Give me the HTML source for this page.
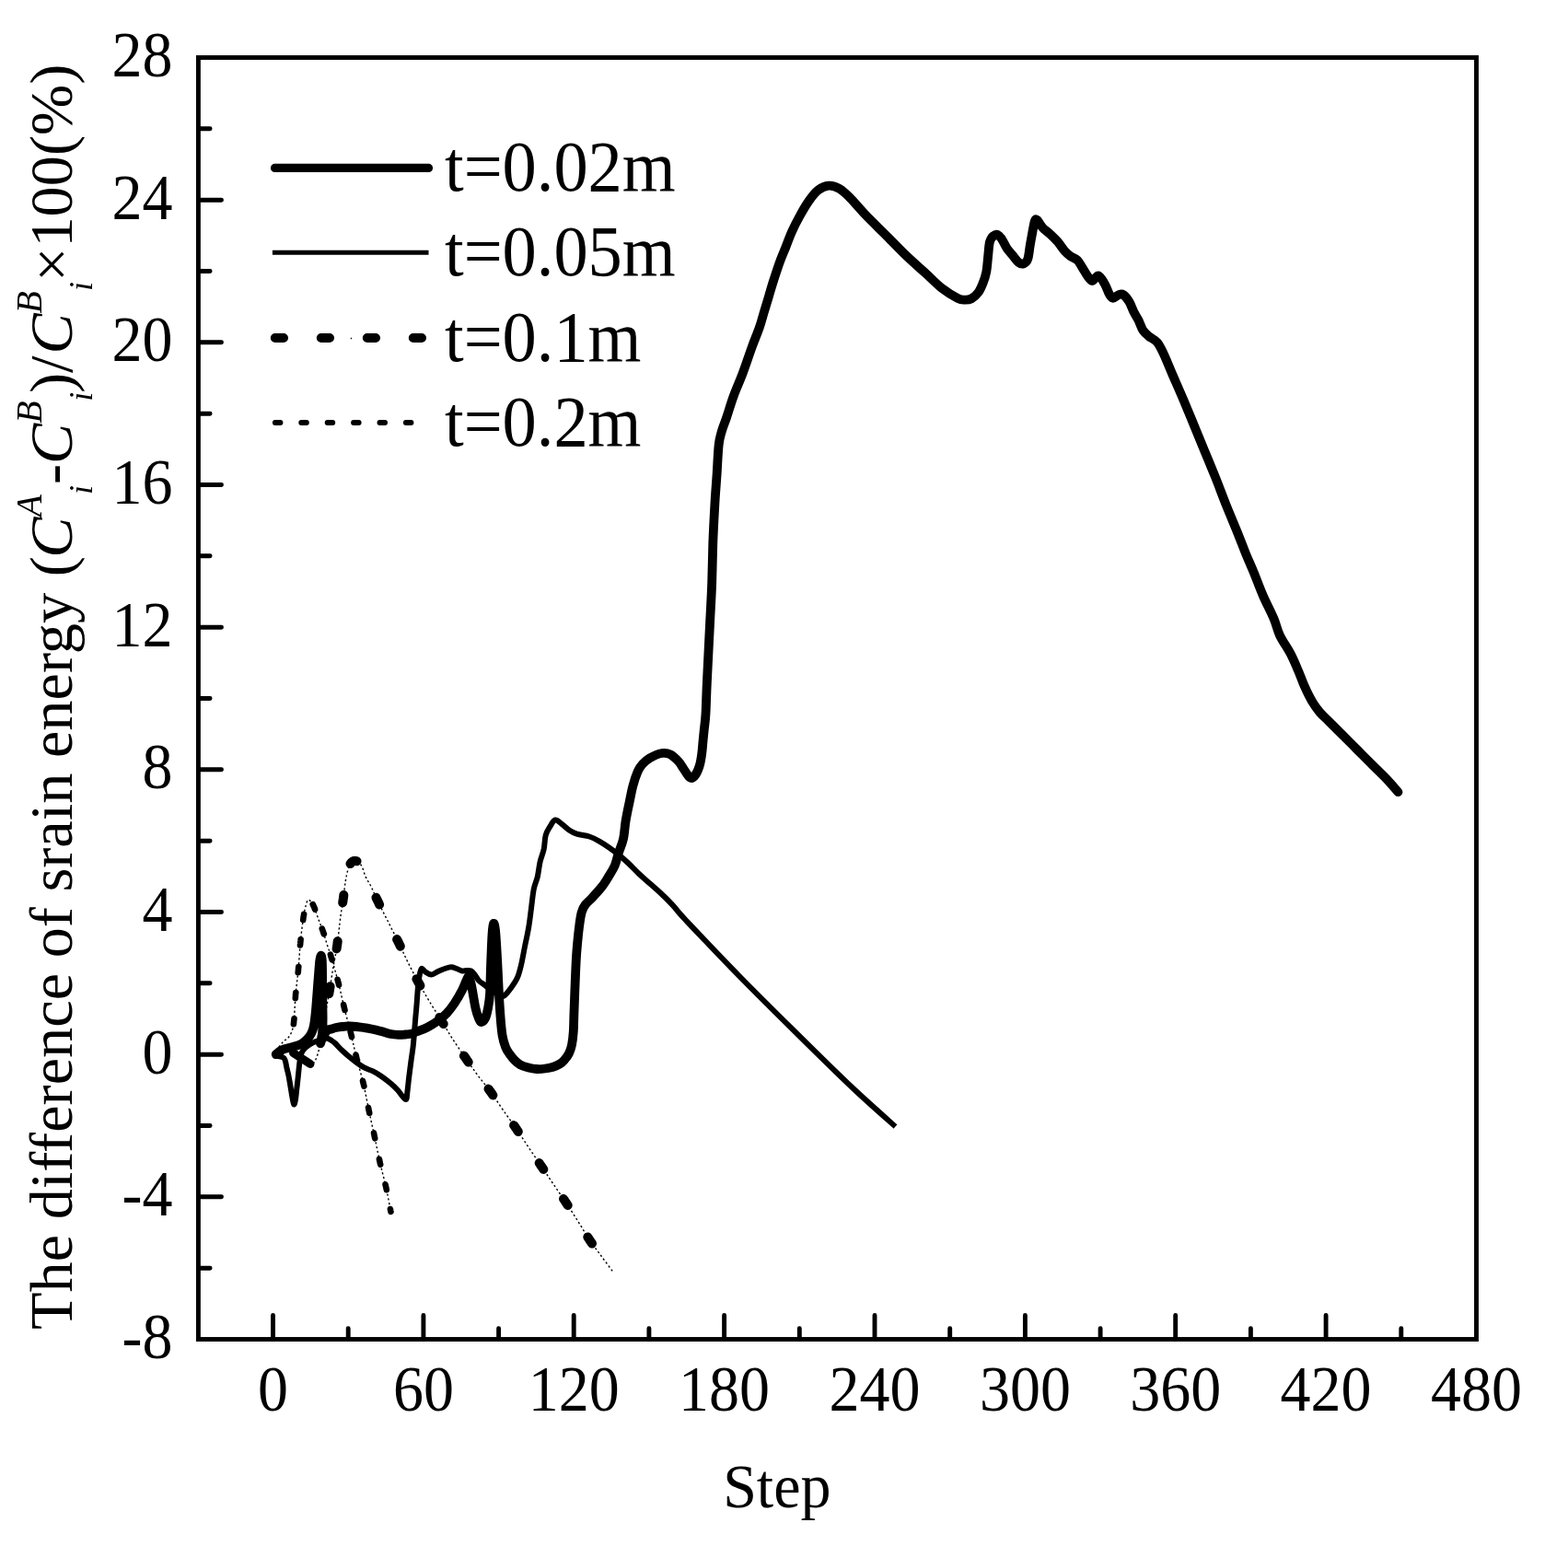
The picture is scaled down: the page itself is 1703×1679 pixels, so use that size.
<!DOCTYPE html>
<html><head><meta charset="utf-8"><title>Strain energy difference vs step</title>
<style>html,body{margin:0;padding:0;background:#fff;overflow:hidden;}svg{display:block;}text{font-family:"Liberation Serif","Times New Roman",serif;fill:#000;}</style></head><body>
<svg width="1703" height="1679" viewBox="0 0 1703 1679">
<rect width="1703" height="1679" fill="#fff"/>
<g fill="none" stroke="#000" stroke-linejoin="round">
<path d="M297 1145 C298.3 1144.5 302.5 1142.7 305 1142 C307.5 1141.3 309.8 1140.8 312 1141 C314.2 1141.2 315.8 1142 318 1143 C320.2 1144 322.8 1145.7 325 1147 C327.2 1148.3 329.1 1149.6 331 1151 C332.9 1152.4 334.8 1155 336.5 1155.5 C338.2 1156 339.6 1155.8 341 1154 C342.4 1152.2 343.7 1149.2 345 1145 C346.3 1140.8 347.8 1134.8 349 1129 C350.2 1123.2 351 1116.2 352 1110 C353 1103.8 354 1097.8 355 1092 C356 1086.2 356.8 1082 358 1075 C359.2 1068 360.6 1058.1 362 1050 C363.4 1041.9 364.9 1035.3 366.2 1026.3 C367.5 1017.3 368.7 1004.4 369.8 996 C370.9 987.6 371.9 982.7 372.8 976.2 C373.7 969.7 374.4 962.2 375.2 957.2 C376 952.2 376.7 949 377.5 946 C378.3 943 379.1 940.8 380 939 C380.9 937.2 381.9 936.2 383 935.5 C384.1 934.8 385.3 934.8 386.5 935 C387.7 935.2 388.8 935.8 390 937 C391.2 938.2 392.3 939.4 393.5 942 C394.7 944.6 395.6 948.9 397.2 952.4 C398.8 955.9 401 958.7 403.2 963.1 C405.4 967.5 407.3 972.5 410.3 978.6 C413.3 984.8 417.2 992.5 421 1000 C424.8 1007.5 429.3 1016.4 433 1023.9 C436.7 1031.4 439.4 1037.8 443 1045 C446.6 1052.2 450.6 1059.8 454.4 1066.8 C458.2 1073.8 461.8 1080 466 1087 C470.2 1094 475.2 1101.5 479.5 1108.5 C483.8 1115.5 487.5 1122.1 492 1129 C496.5 1135.9 501.8 1143.5 506.3 1150 C510.8 1156.5 514.5 1162 519 1168 C523.5 1174 528.5 1179.8 533 1186 C537.5 1192.2 541.4 1198.4 546 1205 C550.6 1211.6 555.8 1218.7 560.5 1225.5 C565.2 1232.3 569.4 1239.2 574 1246 C578.6 1252.8 583.5 1259.8 588 1266.5 C592.5 1273.2 596.6 1279.5 601 1286 C605.4 1292.5 610 1298.8 614.4 1305.5 C618.8 1312.2 623.1 1319.1 627.5 1326 C631.9 1332.9 636.4 1340.7 640.6 1347 C644.9 1353.3 648.8 1358.3 653 1364 C657.2 1369.7 663.5 1378.2 665.6 1381" stroke-width="1.4" stroke-dasharray="2.2 2.6"/>
<path d="M348.1 1133.1 348.5 1131.5 348.8 1129.9 349.1 1128.4 349.4 1126.8 349.7 1125.2 349.7 1124.9M357.3 1079.3 357.5 1077.7 357.8 1076.2 358.1 1074.6 358.3 1073 358.6 1071.5 358.6 1071.2M365.6 1030.4 365.8 1028.9 366.1 1027.2 366.3 1025.7 366.5 1024.2 366.7 1022.6 366.7 1022.2M372.2 980.4 372.4 978.9 372.6 977.3 372.9 975.7 373.1 974.1 373.3 972.5 373.3 972M380.5 938.1 381.5 936.8 382.6 935.7 384.1 935 385.7 934.9 387.2 935.2 387.5 935.3M408.5 974.8 409.2 976.3 409.9 977.7 410.6 979.1 411.3 980.6 411.9 982 412.1 982.4M431.1 1020.1 431.9 1021.6 432.6 1023.1 433.3 1024.5 434 1026 434.7 1027.4 434.8 1027.7M452.4 1063.2 453.2 1064.6 454 1066.1 454.7 1067.4 455.5 1068.7 456.2 1070.1 456.4 1070.5M477.3 1105 478.2 1106.4 479.1 1107.8 479.9 1109.2 480.7 1110.5 481.5 1111.8 481.7 1112.1M503.9 1146.6 504.9 1147.9 505.8 1149.2 506.7 1150.6 507.6 1151.9 508.5 1153.2 508.7 1153.5M530.5 1182.6 531.4 1183.8 532.3 1185.1 533.2 1186.3 534.2 1187.6 535.1 1189 535.4 1189.4M558.1 1222.1 559 1223.3 559.8 1224.5 560.8 1225.9 561.6 1227.2 562.5 1228.4 562.8 1229M585.7 1263.1 586.6 1264.5 587.5 1265.8 588.4 1267.1 589.2 1268.3 590.1 1269.6 590.3 1269.9M612 1302 612.9 1303.2 613.7 1304.5 614.6 1305.8 615.5 1307.2 616.4 1308.6 616.7 1309M638.3 1343.5 639.2 1344.9 640.1 1346.2 641 1347.6 641.9 1348.9 642.8 1350.2 643 1350.5" stroke-width="10" stroke-linecap="round"/>
<path d="M318.5 1143.5L337 1155.5" stroke-width="9" stroke-linecap="round"/>
<path d="M297 1145 C298 1143.7 301.2 1139.3 303 1137 C304.8 1134.7 306.3 1132.7 308 1131 C309.7 1129.3 311.5 1128.8 313 1127 C314.5 1125.2 316 1123 317 1120 C318 1117 318.5 1115.8 319.2 1109.3 C319.9 1102.8 320.2 1090.4 321 1081 C321.8 1071.6 323.1 1062.6 324 1053 C324.9 1043.4 325.4 1032.8 326.3 1023.3 C327.2 1013.8 328.6 1002.6 329.6 995.9 C330.6 989.2 331.5 986.1 332.3 983 C333.1 979.9 333.6 978.2 334.5 977.5 C335.4 976.8 336.4 977.8 337.5 979 C338.6 980.2 339.7 981.8 341 984.8 C342.3 987.8 343.8 992.6 345.4 997 C347 1001.4 349.2 1006.7 350.8 1011.4 C352.4 1016.1 353.5 1020.3 355 1025 C356.5 1029.7 357.6 1032.4 359.7 1039.4 C361.8 1046.4 365 1057.7 367.4 1066.8 C369.8 1075.9 371.5 1084.7 373.8 1094.1 C376.1 1103.5 379.1 1114.1 381.3 1123.2 C383.5 1132.3 385 1139.6 387.2 1148.5 C389.4 1157.4 392.5 1167.2 394.7 1176.8 C396.9 1186.3 398.6 1196.4 400.6 1205.8 C402.6 1215.2 404.6 1224.1 406.6 1233.4 C408.6 1242.7 410.4 1252.4 412.5 1261.7 C414.6 1271 417.2 1280.2 419.2 1289.2 C421.2 1298.2 423.6 1311.5 424.5 1316" stroke-width="1.4" stroke-dasharray="2.2 2.6"/>
<path d="M318.9 1112.2 319.1 1110.4 319.2 1108.8 319.4 1107.3 319.5 1106.2M320.8 1084.1 320.9 1082.5 321 1081 321.1 1079.5 321.3 1078M323.7 1056.1 323.9 1054.5 324 1053 324.1 1051.4 324.3 1050.1M326 1026.4 326.2 1024.8 326.3 1023.1 326.5 1021.6 326.6 1020.3M329.2 999 329.4 997.4 329.6 995.9 329.9 994.2 330.1 992.9M339.7 982.1 340.4 983.5 341.1 984.9 341.6 986.3 342.1 987.6M349.8 1008.6 350.3 1010 350.9 1011.6 351.3 1013 351.8 1014.3M358.9 1036.6 359.3 1038.1 359.7 1039.5 360.2 1041.1 360.6 1042.3M366.6 1063.8 367 1065.3 367.4 1066.8 367.8 1068.3 368.1 1069.7M373.1 1091.1 373.4 1092.6 373.8 1094.1 374.2 1095.7 374.5 1097M380.6 1120.3 381 1121.8 381.3 1123.4 381.7 1124.9 382 1126.1M386.5 1145.6 386.9 1147.1 387.2 1148.7 387.6 1150.2 388 1151.4M394 1173.8 394.3 1175.3 394.7 1176.8 395.1 1178.4 395.4 1179.7M400 1202.9 400.3 1204.5 400.7 1206.1 401 1207.6 401.2 1208.8M406 1230.4 406.3 1231.9 406.6 1233.4 406.9 1235 407.2 1236.3M411.9 1258.8 412.2 1260.4 412.6 1262 412.9 1263.5 413.2 1264.7M418.5 1286.3 418.9 1287.9 419.3 1289.5 419.6 1291.1 419.8 1292.2M423.9 1313 424.2 1314.6 424.5 1316" stroke-width="6.6" stroke-linecap="round"/>
<path d="M297 1146 C297.8 1146.2 300.4 1146.7 302 1147 C303.6 1147.3 305.2 1147.3 306.5 1148 C307.8 1148.7 308.7 1149 309.5 1151 C310.3 1153 310.9 1157.2 311.5 1160 C312.1 1162.8 312.7 1164.7 313.4 1168 C314.1 1171.3 314.8 1176 315.5 1180 C316.2 1184 316.9 1188.8 317.5 1192 C318.1 1195.2 318.6 1199 319.2 1199.5 C319.8 1200 320.3 1197.4 320.8 1195 C321.3 1192.6 321.6 1188.8 322 1185 C322.4 1181.2 323.1 1176.2 323.5 1172 C323.9 1167.8 324.3 1163.7 324.7 1160 C325.1 1156.3 325.4 1152.9 326 1150 C326.6 1147.1 327 1144.6 328 1142.5 C329 1140.4 330.5 1138.9 332 1137.5 C333.5 1136.1 335.2 1135.1 337 1134 C338.8 1132.9 341 1131.8 343 1131 C345 1130.2 347 1129.6 349 1129 C351 1128.4 353.2 1127.3 355 1127.5 C356.8 1127.7 358.5 1129.1 360 1130 C361.5 1130.9 362.1 1131.2 364 1133 C365.9 1134.8 368.3 1137.8 371.5 1140.7 C374.7 1143.7 379.1 1147.6 383 1150.7 C386.9 1153.8 391.3 1157.1 395 1159.2 C398.7 1161.3 401.9 1161.8 405.1 1163.4 C408.3 1165 410.8 1166.5 414 1168.7 C417.2 1170.9 421.5 1174.2 424.5 1176.8 C427.5 1179.3 429.3 1181.1 432 1184 C434.7 1186.9 438.8 1193.8 440.5 1194 C442.2 1194.2 441.9 1189.2 442.5 1185 C443.1 1180.8 443.6 1174.5 444.3 1169 C445 1163.5 445.8 1157.3 446.5 1152 C447.2 1146.7 448 1142.2 448.6 1137 C449.2 1131.8 449.6 1126.3 450 1121 C450.4 1115.7 450.9 1110.3 451.3 1105 C451.8 1099.7 452.3 1094.3 452.7 1089 C453.1 1083.7 453.4 1077.8 453.9 1073 C454.4 1068.2 454.9 1063.5 455.5 1060 C456.1 1056.5 456.7 1052.8 457.8 1052 C458.9 1051.2 460.2 1054.4 462 1055.5 C463.8 1056.6 466.3 1058.7 468.6 1058.6 C470.9 1058.5 473.3 1056.1 475.7 1055 C478.1 1053.9 480.6 1052.8 483 1052 C485.4 1051.2 487.8 1050.3 490 1050.3 C492.2 1050.3 494 1051.3 496 1052 C498 1052.7 500.1 1054.2 501.9 1054.5 C503.7 1054.8 505.4 1054 507 1054 C508.6 1054 510.2 1053.7 511.7 1054.5 C513.2 1055.3 514.6 1057.2 516 1059 C517.4 1060.8 518.3 1063.2 520 1065 C521.7 1066.8 524 1068 526 1069.5 C528 1071 530 1072.6 532 1074 C534 1075.4 535.8 1076.8 538 1078 C540.2 1079.2 543.3 1081 545 1081.5 C546.7 1082 546.5 1082.5 548.2 1081 C549.9 1079.5 552.8 1075.9 555.1 1072.7 C557.4 1069.5 560.1 1065.9 561.9 1061.8 C563.7 1057.7 564.6 1053.8 566 1048.1 C567.4 1042.4 568.7 1034.3 570.1 1027.5 C571.5 1020.6 573.1 1013.9 574.2 1007 C575.4 1000.1 576.1 993.2 577 986.4 C577.9 979.5 578.6 971.6 579.7 965.9 C580.8 960.2 582.6 957.2 583.8 952.2 C584.9 947.2 585.5 940.8 586.6 935.8 C587.8 930.8 589.7 926.9 590.7 922.1 C591.7 917.3 591.6 911.1 592.7 907 C593.8 902.9 595.8 900.1 597.5 897.4 C599.2 894.6 600.9 891 603 890.5 C605.1 890 607.4 892.9 609.9 894.7 C612.4 896.5 615.4 899.7 618.1 901.5 C620.8 903.3 622.6 904.4 626.3 905.6 C629.9 906.8 635.9 907.2 640 908.5 C644.1 909.8 647.3 911.6 650.8 913.6 C654.3 915.6 657.7 917.8 661.2 920.2 C664.7 922.6 668.2 925.3 671.7 928.1 C675.2 930.9 678.5 933.7 682.2 937.2 C685.9 940.7 690.1 945.3 694 949 C697.9 952.7 701.9 956 705.8 959.5 C709.7 963 713.5 966.1 717.6 970 C721.8 973.9 726.1 978.2 730.7 983.1 C735.3 988 733.1 986.9 745 999.5 C756.9 1012.1 782.1 1038.8 801.9 1059 C821.7 1079.2 843.2 1100.5 863.9 1120.9 C884.5 1141.3 907.7 1164.2 925.8 1181.3 C943.9 1198.4 964.7 1216.5 972.5 1223.5" stroke-width="6" stroke-linecap="butt"/>
<path d="M299.7 1145 C300.4 1144.4 302.6 1142.5 304 1141.5 C305.4 1140.5 306.3 1140 308.4 1139.3 C310.5 1138.6 313.8 1138 316.7 1137.2 C319.6 1136.4 323.1 1135.5 325.5 1134.5 C327.9 1133.5 329.4 1132.2 331 1131 C332.6 1129.8 333.8 1128.4 335 1127 C336.2 1125.6 337.1 1124.2 338 1122.5 C338.9 1120.8 339.7 1118.9 340.3 1116.5 C340.9 1114.1 341.4 1111.2 341.8 1108 C342.2 1104.8 342.6 1101.3 343 1097 C343.4 1092.7 343.8 1087 344.2 1082 C344.6 1077 344.9 1072 345.3 1067 C345.7 1062 346.2 1056 346.5 1052 C346.8 1048 347 1045.4 347.3 1043 C347.6 1040.6 348.1 1038.1 348.5 1037.8 C348.9 1037.5 349.4 1039 349.6 1041 C349.9 1043 349.9 1045.7 350 1050 C350.1 1054.3 350.1 1060.8 350.1 1067 C350.2 1073.2 350.2 1080.5 350.3 1087 C350.4 1093.5 350.6 1100.5 350.6 1106 C350.6 1111.5 350.4 1116.2 350.2 1120 C350 1123.8 349.3 1127.8 349.6 1128.5 C349.9 1129.2 351 1125.6 352 1124 C353 1122.4 354.2 1120.1 355.5 1119 C356.8 1117.9 358.4 1118 360 1117.5 C361.6 1117 363.1 1116.4 365 1116 C366.9 1115.6 369 1115.2 371.5 1115 C374 1114.8 376.1 1114.3 380 1114.5 C383.9 1114.7 391.3 1115.5 395 1116 C398.7 1116.5 398.8 1116.5 402 1117.2 C405.2 1117.9 410.2 1119 414 1120 C417.8 1121 421.3 1122.4 424.5 1123 C427.7 1123.6 430.4 1123.7 433 1123.8 C435.6 1123.9 437.5 1123.7 440 1123.5 C442.5 1123.3 446 1123 448 1122.5 C450 1122 449.4 1121.7 452 1120.6 C454.6 1119.5 459.9 1117.8 463.8 1115.8 C467.8 1113.8 472.1 1111.2 475.7 1108.6 C479.3 1106 482.3 1103.5 485.3 1100.3 C488.3 1097.1 490.8 1093.8 493.6 1089.6 C496.4 1085.4 499.9 1079.4 502 1075.3 C504.1 1071.2 505.3 1067.4 506.5 1065 C507.7 1062.6 508.1 1060.2 509 1061 C509.9 1061.8 510.8 1064.3 512 1070 C513.2 1075.7 515.2 1089 516.5 1095 C517.8 1101 518.9 1103.5 520 1106 C521.1 1108.5 521.8 1110 523 1110 C524.2 1110 525.8 1108.5 527 1106 C528.2 1103.5 529.2 1099.3 530 1095 C530.8 1090.7 531.5 1087.5 532 1080 C532.5 1072.5 532.6 1060.8 533 1050 C533.4 1039.2 534 1022.8 534.5 1015 C535 1007.2 535.4 1003.8 536 1003 C536.6 1002.2 537.3 1003.8 538 1010 C538.7 1016.2 539.4 1029.2 540 1040 C540.6 1050.8 541.2 1065 541.7 1075 C542.2 1085 542.6 1091.8 543.2 1100 C543.8 1108.2 544.5 1117.8 545.5 1124 C546.5 1130.2 547.7 1133.6 549 1137 C550.3 1140.4 551.5 1142 553.2 1144.4 C554.9 1146.8 557 1149.5 559 1151.5 C561 1153.5 562.5 1155 565 1156.3 C567.5 1157.6 571 1158.7 574 1159.5 C577 1160.3 580 1160.8 583 1161 C586 1161.2 589 1160.9 592 1160.5 C595 1160.1 598.1 1159.5 600.8 1158.7 C603.5 1157.9 606 1156.7 608 1155.5 C610 1154.3 611 1153.4 612.7 1151.5 C614.4 1149.6 616.6 1146.8 618 1144 C619.4 1141.2 620.2 1138.9 621 1134.9 C621.8 1130.9 622.4 1126 622.8 1120 C623.2 1114 623.1 1108.7 623.5 1099 C623.9 1089.3 624.4 1072.6 624.9 1061.8 C625.4 1051 625.6 1043.5 626.3 1034.4 C627 1025.3 628.1 1014.3 629 1007 C629.9 999.7 630.6 994.6 631.8 990.5 C632.9 986.4 634 984.8 635.9 982.3 C637.8 979.8 640 978.4 642.9 975.2 C645.8 972.1 650.3 967.3 653.4 963.4 C656.5 959.5 658.8 955.5 661.2 951.6 C663.6 947.7 666 944 667.8 939.9 C669.5 935.8 670.2 931.6 671.7 926.8 C673.2 922 675.7 916.9 677 911 C678.3 905.1 678.5 897.9 679.6 891.4 C680.7 884.9 682.2 878 683.5 871.7 C684.8 865.4 685.9 859.1 687.4 853.4 C688.9 847.7 691 841.6 692.7 837.7 C694.5 833.8 695.7 832.2 697.9 829.8 C700.1 827.4 702.3 825.2 705.8 823.2 C709.3 821.2 715.2 818.6 718.9 818 C722.6 817.4 725 817.8 728 819.3 C731 820.8 734.8 824.6 737.2 827.2 C739.6 829.8 740.5 832.2 742.5 835 C744.5 837.8 747 842.9 749 844.2 C751 845.5 752.5 844.9 754.3 842.9 C756 840.9 758.2 836.3 759.5 832.4 C760.8 828.5 761.5 823.7 762.1 819.3 C762.8 814.9 763 810.6 763.4 806.2 C763.8 801.8 764.2 798.3 764.7 793.1 C765.2 787.9 766 783.8 766.5 775 C767 766.2 767.1 756.7 767.9 740.2 C768.7 723.7 770.2 693.7 771.1 675.8 C772 657.9 772.7 647.3 773.2 633 C773.7 618.7 773.8 604.3 774.3 590 C774.8 575.7 775.7 559.7 776.4 547.2 C777.1 534.7 777.9 525.7 778.6 515 C779.3 504.3 779.8 490.8 780.7 482.9 C781.6 475 782.6 472.9 784 467.9 C785.4 462.9 787.2 459.2 789.3 452.9 C791.4 446.6 793.8 438.1 796.7 430.2 C799.6 422.2 803.4 414.1 806.7 405.2 C810 396.3 813.7 385.1 816.7 376.8 C819.8 368.5 822.8 361.5 825 355.1 C827.2 348.7 828.3 343.9 830 338.4 C831.7 332.8 833.3 327.4 835 321.8 C836.7 316.2 838 311.2 840 305.1 C842 299 844.5 291.2 846.7 285.1 C848.9 279 851.2 274 853.4 268.4 C855.6 262.8 857.5 257.3 860 251.7 C862.5 246.1 865.3 240.6 868.4 235 C871.5 229.4 875.1 223.1 878.4 218.4 C881.7 213.7 884.8 209.5 888.4 206.7 C892 203.9 896.2 202 900.1 201.7 C904 201.4 907.9 202.8 911.8 205 C915.7 207.2 918.7 210.3 923.4 215 C928.1 219.7 933.4 226.5 940.1 233.4 C946.8 240.3 956 249.2 963.5 256.7 C971 264.2 978.1 271.7 985.1 278.4 C992.1 285.1 998.8 290.9 1005.2 296.7 C1011.6 302.5 1017.7 308.9 1023.5 313.4 C1029.3 317.9 1036 321.8 1040 323.8 C1044 325.9 1045 325.6 1047.5 325.7 C1050 325.8 1052.5 325.8 1055 324.4 C1057.5 323 1060.4 320.4 1062.5 317.6 C1064.6 314.8 1066 311.4 1067.5 307.6 C1069 303.9 1070.4 299.9 1071.3 295.1 C1072.2 290.3 1072.5 284.2 1073.1 278.8 C1073.7 273.4 1074 266.2 1075 262.5 C1076 258.8 1077.3 257.6 1078.8 256.3 C1080.3 255.1 1082.2 254.4 1083.8 255 C1085.4 255.6 1086.5 257.5 1088.2 260 C1089.9 262.5 1091.8 267.1 1093.8 270 C1095.8 272.9 1097.9 275 1100 277.5 C1102.1 280 1104.3 283.5 1106.3 285 C1108.3 286.5 1110.2 286.9 1111.9 286.3 C1113.6 285.7 1115.2 284.6 1116.3 281.3 C1117.4 278 1118 271.1 1118.8 266.3 C1119.6 261.5 1120.5 256.9 1121.3 252.5 C1122.1 248.1 1123 242.3 1123.8 240 C1124.6 237.7 1124.8 237.6 1126.3 238.8 C1127.8 240.1 1130.3 245 1132.6 247.5 C1134.9 250 1137.4 251.3 1140.1 253.8 C1142.8 256.3 1146.1 259.4 1148.8 262.5 C1151.5 265.6 1154 269.9 1156.3 272.5 C1158.6 275.1 1160.3 276.5 1162.6 278.2 C1164.9 279.9 1168 280.5 1170.1 282.5 C1172.2 284.5 1173.2 287.1 1175.1 290 C1177 292.9 1179.4 297.5 1181.3 300 C1183.2 302.5 1184.8 304.8 1186.3 305 C1187.8 305.2 1188.8 302.1 1190.1 301.3 C1191.3 300.5 1192.1 298.8 1193.8 300 C1195.5 301.2 1198.2 305.4 1200.1 308.8 C1202 312.2 1203.6 317.6 1205.1 320.1 C1206.6 322.6 1207.2 323.8 1208.9 323.8 C1210.6 323.8 1213.2 320.7 1215.1 320.1 C1217 319.5 1218.2 318.9 1220.1 320.1 C1222 321.4 1224.5 324.5 1226.4 327.6 C1228.3 330.7 1229.7 335.5 1231.4 338.8 C1233.1 342.1 1234.7 344.3 1236.4 347.6 C1238.1 350.9 1239.5 355.9 1241.4 358.8 C1243.3 361.7 1245 363 1247.6 365.1 C1250.1 367.2 1254.1 368.6 1256.7 371.7 C1259.3 374.8 1260.6 377.6 1263.4 383.4 C1266.2 389.2 1269.8 398.4 1273.4 406.7 C1277 415 1281.1 424.2 1285 433.4 C1288.9 442.6 1292.8 452.2 1296.7 461.7 C1300.6 471.1 1304.5 480.6 1308.4 490.1 C1312.3 499.6 1316.2 508.8 1320.1 518.5 C1324 528.2 1327.8 538.8 1331.7 548.5 C1335.6 558.2 1339.9 568.2 1343.4 576.8 C1346.9 585.4 1349.5 592.5 1352.5 600 C1355.5 607.5 1358.5 613.9 1361.7 621.7 C1364.9 629.5 1368.1 638.4 1371.7 646.7 C1375.3 655 1380.4 664.5 1383.4 671.7 C1386.5 678.9 1387 683.7 1390 690.1 C1393 696.5 1398.4 703.7 1401.7 710.1 C1405 716.5 1407.5 722.6 1410 728.4 C1412.5 734.2 1414.2 739.5 1416.7 745.1 C1419.2 750.7 1422.3 757.1 1425.1 761.8 C1427.9 766.5 1430.4 769.9 1433.4 773.5 C1436.5 777.1 1439.5 779.6 1443.4 783.5 C1447.3 787.4 1451.7 791.8 1456.7 796.8 C1461.7 801.8 1467.8 807.9 1473.4 813.5 C1479 819.1 1484.5 824.7 1490.1 830.2 C1495.7 835.8 1502.1 841.8 1506.8 846.8 C1511.5 851.8 1516.5 858 1518.5 860.2" stroke-width="9.8" stroke-linecap="round"/>
</g>
<g stroke="#000" stroke-width="4.9" fill="none">
<rect x="215.4" y="62.5" width="1388.1" height="1392" stroke-linejoin="miter"/>
<path d="M215.4 1377.2H228.1M215.4 1299.8H240.5M215.4 1222.5H228.1M215.4 1145.2H240.5M215.4 1067.8H228.1M215.4 990.5H240.5M215.4 913.2H228.1M215.4 835.8H240.5M215.4 758.5H228.1M215.4 681.2H240.5M215.4 603.8H228.1M215.4 526.5H240.5M215.4 449.2H228.1M215.4 371.8H240.5M215.4 294.5H228.1M215.4 217.2H240.5M215.4 139.8H228.1M296.5 1454.5V1428.4M378.2 1454.5V1442.7M459.9 1454.5V1428.4M541.6 1454.5V1442.7M623.2 1454.5V1428.4M704.9 1454.5V1442.7M786.6 1454.5V1428.4M868.3 1454.5V1442.7M950 1454.5V1428.4M1031.7 1454.5V1442.7M1113.4 1454.5V1428.4M1195.1 1454.5V1442.7M1276.7 1454.5V1428.4M1358.4 1454.5V1442.7M1440.1 1454.5V1428.4M1521.8 1454.5V1442.7" stroke-linecap="round"/>
</g>
<g font-size="66">
<text transform="translate(187.5 1474.8) scale(1 1.065)" text-anchor="end">-8</text>
<text transform="translate(187.5 1320.1) scale(1 1.065)" text-anchor="end">-4</text>
<text transform="translate(187.5 1165.5) scale(1 1.065)" text-anchor="end">0</text>
<text transform="translate(187.5 1010.8) scale(1 1.065)" text-anchor="end">4</text>
<text transform="translate(187.5 856.1) scale(1 1.065)" text-anchor="end">8</text>
<text transform="translate(187.5 701.5) scale(1 1.065)" text-anchor="end">12</text>
<text transform="translate(187.5 546.8) scale(1 1.065)" text-anchor="end">16</text>
<text transform="translate(187.5 392.1) scale(1 1.065)" text-anchor="end">20</text>
<text transform="translate(187.5 237.5) scale(1 1.065)" text-anchor="end">24</text>
<text transform="translate(187.5 82.8) scale(1 1.065)" text-anchor="end">28</text>
<text transform="translate(296.5 1532.3) scale(1 1.065)" text-anchor="middle">0</text>
<text transform="translate(459.9 1532.3) scale(1 1.065)" text-anchor="middle">60</text>
<text transform="translate(623.2 1532.3) scale(1 1.065)" text-anchor="middle">120</text>
<text transform="translate(786.6 1532.3) scale(1 1.065)" text-anchor="middle">180</text>
<text transform="translate(950 1532.3) scale(1 1.065)" text-anchor="middle">240</text>
<text transform="translate(1113.4 1532.3) scale(1 1.065)" text-anchor="middle">300</text>
<text transform="translate(1276.7 1532.3) scale(1 1.065)" text-anchor="middle">360</text>
<text transform="translate(1440.1 1532.3) scale(1 1.065)" text-anchor="middle">420</text>
<text transform="translate(1603.5 1532.3) scale(1 1.065)" text-anchor="middle">480</text>
</g>
<text transform="translate(843.8 1636.5) scale(1 1.04)" font-size="66" text-anchor="middle">Step</text>
<text transform="translate(77.5 1444) rotate(-90)" font-size="66.3"><tspan>The difference of srain energy </tspan><tspan dx="1">(</tspan><tspan font-style="italic" dx="-1.5">C</tspan><tspan font-style="italic" font-size="40" dy="-32.5">A</tspan><tspan font-style="italic" font-size="36" dy="55">i</tspan><tspan dx="1" dy="-22.5">-</tspan><tspan font-style="italic">C</tspan><tspan font-style="italic" font-size="40" dy="-32.5">B</tspan><tspan font-style="italic" font-size="36" dx="-0.5" dy="55">i</tspan><tspan dx="-1.3" dy="-22.5">)/</tspan><tspan font-style="italic" dx="2">C</tspan><tspan font-style="italic" font-size="40" dy="-32.5">B</tspan><tspan font-style="italic" font-size="36" dy="55">i</tspan><tspan dy="-22.5">×100(%)</tspan></text>
<g stroke="#000" fill="none">
<path d="M298.5 182.4H465.5" stroke-width="9.2" stroke-linecap="round"/>
<path d="M295.9 274.3H465.5" stroke-width="5" stroke-linecap="butt"/>
<path d="M298.8 367H460" stroke-width="10" stroke-linecap="round" stroke-dasharray="9.2 40.8"/>
<path d="M298.9 459H447" stroke-width="6" stroke-linecap="round" stroke-dasharray="5.5 22.9"/>
<path d="M380.8 367.5h1.2" stroke-width="1.6"/>
</g>
<g font-size="74.4">
<text transform="translate(483 207.1) scale(1 1.05)">t=0.02m</text>
<text transform="translate(483 299) scale(1 1.05)">t=0.05m</text>
<text transform="translate(483 391.7) scale(1 1.05)">t=0.1m</text>
<text transform="translate(483 483.7) scale(1 1.05)">t=0.2m</text>
</g>
</svg>
</body></html>
